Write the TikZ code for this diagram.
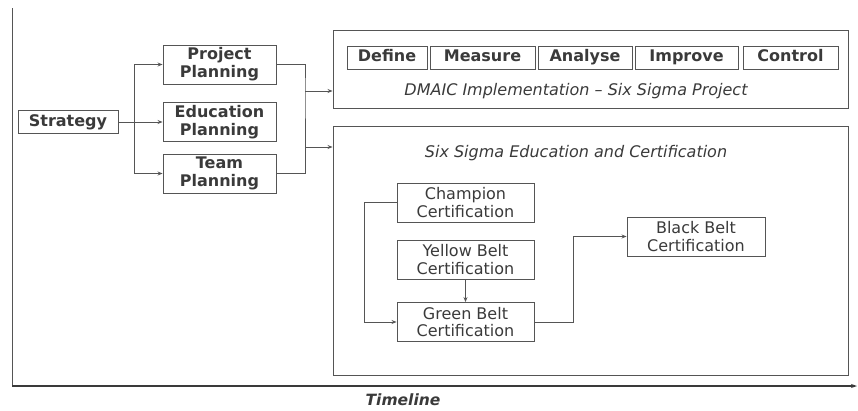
\documentclass[tikz,border=0pt]{standalone}
\usepackage{fontspec}
\setmainfont{DejaVu Sans}
\usetikzlibrary{arrows.meta}
\definecolor{ink}{HTML}{3A3A3A}
\definecolor{rule}{HTML}{555555}
\begin{document}
\begin{tikzpicture}[x=1pt,y=-1pt,
  every node/.style={text=ink,font=\fontsize{16}{17.5}\selectfont},
  box/.style={draw=rule,line width=0.9pt,inner sep=0pt,align=center},
  boldbox/.style={box,font=\fontsize{16}{18}\selectfont\bfseries},
  stepcell/.style={boldbox,minimum height=23,text height=11.5,text depth=3.5},
  frame/.style={draw=rule,line width=0.9pt,inner sep=0pt},
  link/.style={draw=rule,line width=0.8pt},
  arr/.style={link,-{Stealth[length=5pt,width=4pt]}},
  axis/.style={draw=ink,line width=1.6pt},
  caption/.style={font=\fontsize{16}{18}\selectfont\itshape}]
\useasboundingbox (0,0) rectangle (858,410);

% time axis
\coordinate (otop) at (12,8);
\coordinate (orig) at (12,386);
\coordinate (oend) at (857,386);
\draw[link] (otop) -- (orig);
\draw[axis,-{Stealth[length=6pt,width=4pt]}] (orig) -- (oend);
\node[font=\fontsize{15.5}{18}\selectfont\bfseries\itshape,inner sep=0pt] (tl) at (403,400) {Timeline};

% planning column
\node[stepcell,minimum width=100] (strat) at (68,122) {Strategy};
\node[boldbox,minimum width=113,minimum height=39] (proj) at (219.5,64.5) {Project\\Planning};
\node[boldbox,minimum width=113,minimum height=39] (edu) at (219.5,122) {Education\\Planning};
\node[boldbox,minimum width=113,minimum height=39] (team) at (219.5,173.5) {Team\\Planning};

\coordinate (ja) at (134,122);
\draw[arr] (strat.east) -- (edu.west);
\draw[arr] (ja) |- (proj.west);
\draw[arr] (ja) |- (team.west);

% DMAIC frame
\node[frame,minimum width=515,minimum height=78] (dmaic) at (590.5,69) {};
\node[stepcell,minimum width=80] (d) at (387,57.5) {Define};
\node[stepcell,minimum width=105] (m) at (482.5,57.5) {Measure};
\node[stepcell,minimum width=94] (a) at (585,57.5) {Analyse};
\node[stepcell,minimum width=103] (i) at (686.5,57.5) {Improve};
\node[stepcell,minimum width=95] (c) at (790.5,57.5) {Control};
\node[caption] (dcap) at (576,91) {DMAIC Implementation -- Six Sigma Project};

% education frame
\node[frame,minimum width=515,minimum height=249] (edubox) at (590.5,250.5) {};
\node[caption] (ecap) at (576,153) {Six Sigma Education and Certification};

\coordinate (jb) at (305,91);
\coordinate (jc) at (305,147);
\draw[link] (proj.east) -| (jb) -- (jc);
\draw[link] (team.east) -| (jc);
\draw[arr] (jb) -- (dmaic.west |- jb);
\draw[arr] (jc) -- (edubox.west |- jc);

% certifications
\node[box,minimum width=137,minimum height=39] (champ) at (465.5,202.5) {Champion\\Certification};
\node[box,minimum width=137,minimum height=39] (yellow) at (465.5,259.5) {Yellow Belt\\Certification};
\node[box,minimum width=137,minimum height=39] (green) at (465.5,322) {Green Belt\\Certification};
\node[box,minimum width=138,minimum height=39] (black) at (696,236.5) {Black Belt\\Certification};

\draw[arr] (champ.west) -- ++(-32,0) |- (green.west);
\draw[arr] (yellow.south) -- (green.north);
\draw[arr] (green.east) -- ++(39,0) |- (black.west);
\end{tikzpicture}
\end{document}
